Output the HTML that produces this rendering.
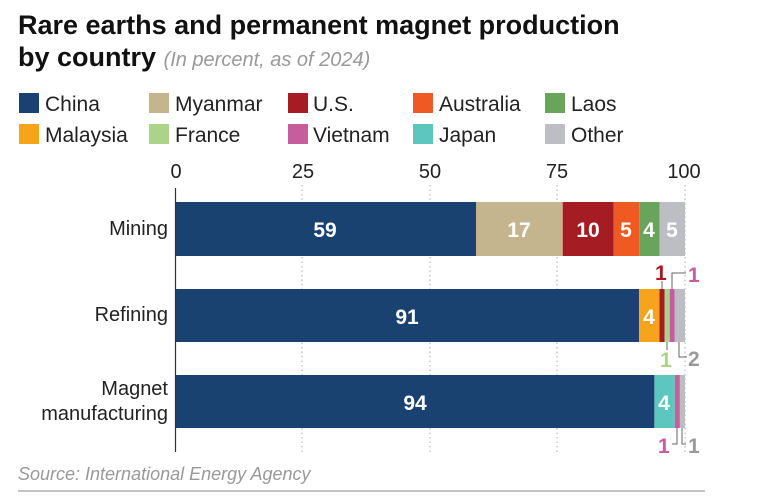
<!DOCTYPE html>
<html><head><style>
body{margin:0;background:#fff;width:780px;height:499px;overflow:hidden;font-family:"Liberation Sans",sans-serif}
</style></head><body>
<svg width="780" height="499" xmlns="http://www.w3.org/2000/svg" font-family="Liberation Sans, sans-serif">
<text x="18" y="34" font-size="27" font-weight="bold" fill="#111">Rare earths and permanent magnet production</text>
<text x="18" y="66" font-size="27" font-weight="bold" fill="#111">by country <tspan font-size="20" font-weight="normal" font-style="italic" fill="#999">(In percent, as of 2024)</tspan></text>
<g font-size="21" fill="#222">
<rect x="19" y="93" width="20" height="20" fill="#1a4270"/><text x="45" y="111">China</text>
<rect x="149" y="93" width="20" height="20" fill="#c4b58e"/><text x="175" y="111">Myanmar</text>
<rect x="288" y="93" width="20" height="20" fill="#a51c22"/><text x="313" y="111">U.S.</text>
<rect x="413" y="93" width="20" height="20" fill="#ef5a23"/><text x="439" y="111">Australia</text>
<rect x="545" y="93" width="20" height="20" fill="#68a45c"/><text x="571" y="111">Laos</text>
<rect x="19" y="124" width="20" height="20" fill="#f6a41c"/><text x="45" y="142">Malaysia</text>
<rect x="149" y="124" width="20" height="20" fill="#acd38a"/><text x="175" y="142">France</text>
<rect x="288" y="124" width="20" height="20" fill="#c65d9c"/><text x="313" y="142">Vietnam</text>
<rect x="413" y="124" width="20" height="20" fill="#5cc7bf"/><text x="439" y="142">Japan</text>
<rect x="545" y="124" width="20" height="20" fill="#bcbec3"/><text x="571" y="142">Other</text>
</g>
<g font-size="20" fill="#222" text-anchor="middle">
<text x="176" y="178">0</text><text x="303" y="178">25</text><text x="430" y="178">50</text><text x="557" y="178">75</text><text x="684" y="178">100</text>
</g>
<g stroke="#aaa" stroke-dasharray="1.5,3" stroke-width="1">
<line x1="302" y1="185" x2="302" y2="452"/><line x1="430" y1="185" x2="430" y2="452"/><line x1="557" y1="185" x2="557" y2="452"/><line x1="685" y1="185" x2="685" y2="452"/>
</g>
<rect x="175" y="202" width="301" height="54" fill="#1a4270"/>
<rect x="476" y="202" width="86.7" height="54" fill="#c4b58e"/>
<rect x="562.7" y="202" width="51" height="54" fill="#a51c22"/>
<rect x="613.7" y="202" width="25.5" height="54" fill="#ef5a23"/>
<rect x="639.2" y="202" width="20.4" height="54" fill="#68a45c"/>
<rect x="659.6" y="202" width="25.4" height="54" fill="#bcbec3"/>
<rect x="175" y="289" width="464.1" height="53" fill="#1a4270"/>
<rect x="639.1" y="289" width="20.4" height="53" fill="#f6a41c"/>
<rect x="659.5" y="289" width="5.1" height="53" fill="#a51c22"/>
<rect x="664.6" y="289" width="5.1" height="53" fill="#acd38a"/>
<rect x="669.7" y="289" width="5.1" height="53" fill="#c65d9c"/>
<rect x="674.8" y="289" width="10.2" height="53" fill="#bcbec3"/>
<rect x="175" y="375" width="479.4" height="53" fill="#1a4270"/>
<rect x="654.4" y="375" width="20.4" height="53" fill="#5cc7bf"/>
<rect x="674.8" y="375" width="5.1" height="53" fill="#c65d9c"/>
<rect x="679.9" y="375" width="5.1" height="53" fill="#bcbec3"/>
<line x1="175.5" y1="188" x2="175.5" y2="452" stroke="#333" stroke-width="1.2"/>
<g font-size="21" font-weight="bold" fill="#fff" text-anchor="middle">
<text x="325" y="237">59</text><text x="519" y="237">17</text><text x="588" y="237">10</text><text x="626" y="237">5</text><text x="649" y="237">4</text><text x="672" y="237">5</text>
<text x="407" y="324">91</text><text x="649" y="324">4</text>
<text x="415" y="410">94</text><text x="664" y="410">4</text>
</g>
<g font-size="20" fill="#222" text-anchor="end">
<text x="168" y="235">Mining</text>
<text x="168" y="321">Refining</text>
<text x="168" y="395">Magnet</text>
<text x="168" y="420">manufacturing</text>
</g>
<g fill="none" stroke="#666" stroke-width="1">
<line x1="662" y1="281" x2="662" y2="289"/>
<polyline points="672,289 672,273 686,273"/>
<line x1="667" y1="342" x2="667" y2="350"/>
<polyline points="679,342 679,357 687,357"/>
<polyline points="677,428 677,444 672,444"/>
<polyline points="682,428 682,444 686,444"/>
</g>
<g font-size="21" font-weight="bold">
<text x="655" y="280" fill="#a51c22">1</text>
<text x="688" y="282" fill="#c65d9c">1</text>
<text x="660" y="367" fill="#acd38a">1</text>
<text x="688" y="366" fill="#999">2</text>
<text x="658" y="453" fill="#c65d9c">1</text>
<text x="688" y="453" fill="#999">1</text>
</g>
<text x="18" y="480" font-size="18" font-style="italic" fill="#999">Source: International Energy Agency</text>
<line x1="18" y1="491" x2="705" y2="491" stroke="#888" stroke-width="1"/>
</svg>
</body></html>
